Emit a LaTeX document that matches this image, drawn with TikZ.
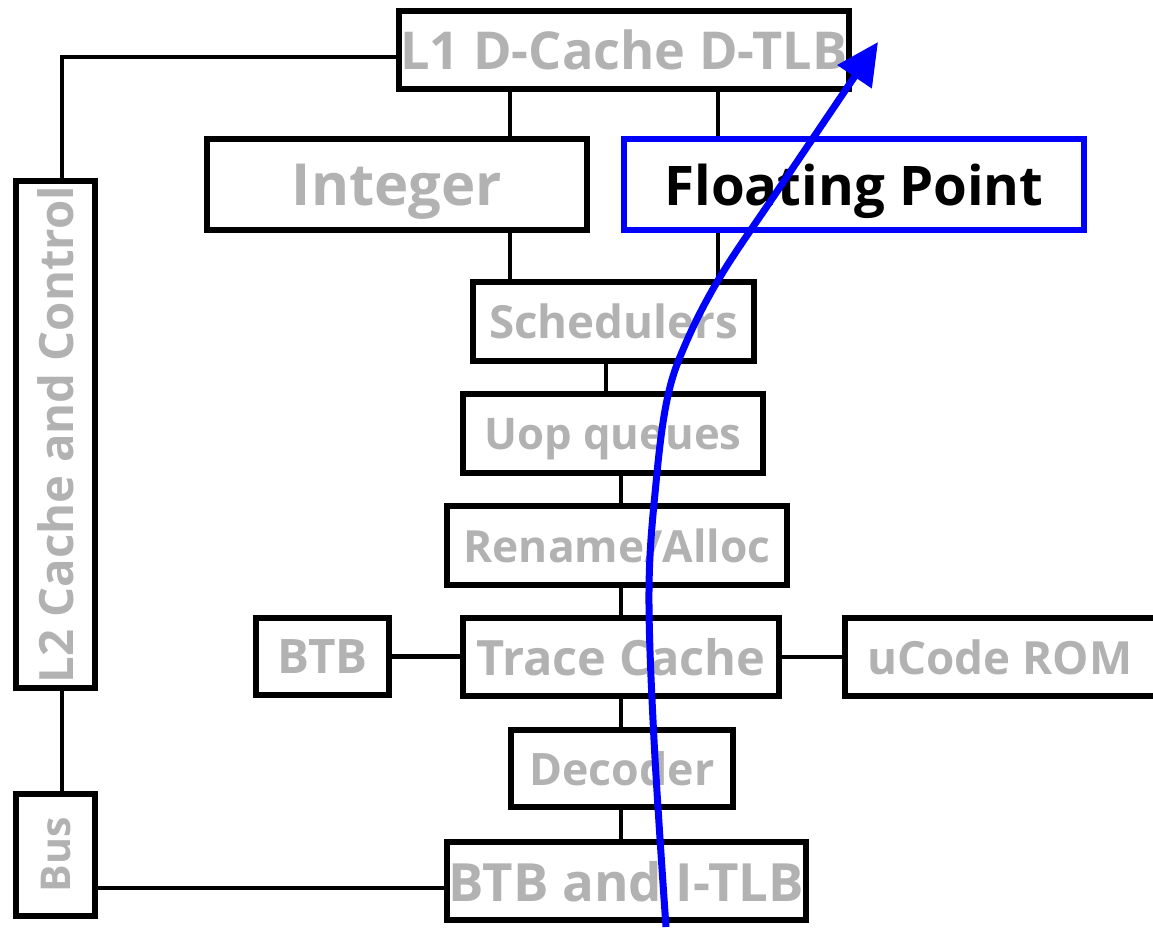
\documentclass[tikz,border=0pt]{standalone}
\usepackage{fontspec}
\setmainfont{Open Sans}
\usepackage{graphicx}
\usetikzlibrary{arrows.meta}
\definecolor{txtgray}{RGB}{178,178,178}
\definecolor{fpblue}{RGB}{0,0,255}
\newcommand{\fitw}[2]{\resizebox{#1pt}{!}{\raisebox{0pt}[\height][0pt]{\bfseries #2}}}
\begin{document}
\begin{tikzpicture}[x=1pt,y=-1pt,
  blk/.style={draw=black,line width=5.2pt,inner sep=0pt,text=txtgray,fill=white},
  conn/.style={line width=4.4pt,draw=black},
  flow/.style={draw=fpblue,line width=7pt,-{Triangle[length=42pt,width=40pt]}}]
\useasboundingbox (0,0) rectangle (1153,927);
% boxes
\node[blk,minimum width=450pt,minimum height=78pt] (L1) at (624,50) {\fitw{447}{L1 D-Cache D-TLB}};
\node[blk,minimum width=380pt,minimum height=91pt] (Int) at (397,184.5) {\fitw{210}{Integer}};
\node[blk,draw=fpblue,text=black,minimum width=460pt,minimum height=91pt] (FP) at (854,184.5) {\fitw{379}{Floating Point}};
\node[blk,minimum width=281pt,minimum height=79pt] (Sch) at (613.5,321.5) {\fitw{249}{Schedulers}};
\node[blk,minimum width=300pt,minimum height=79pt] (Uop) at (613,433.5) {\fitw{257}{Uop queues}};
\node[blk,minimum width=340pt,minimum height=79pt] (Ren) at (617,545.5) {\fitw{307}{Rename/Alloc}};
\node[blk,minimum width=133pt,minimum height=77pt] (BTB) at (322.5,656.5) {\fitw{90}{BTB}};
\node[blk,minimum width=316pt,minimum height=78pt] (TC) at (621,657) {\fitw{289}{Trace Cache}};
\node[blk,minimum width=320pt,minimum height=78pt] (UC) at (1005,657) {\hspace*{-10pt}\fitw{265}{uCode ROM}};
\node[blk,minimum width=222pt,minimum height=77pt] (Dec) at (622,768.5) {\fitw{185}{Decoder}};
\node[blk,minimum width=359pt,minimum height=78pt] (BTBI) at (626.5,881) {\fitw{355}{BTB and I-TLB}};
\node[blk,minimum width=79pt,minimum height=507pt] (L2) at (55.5,434.5) {\rotatebox{90}{\fitw{497}{L2 Cache and Control}}};
\node[blk,minimum width=79pt,minimum height=122pt] (Bus) at (55.5,855) {\rotatebox{90}{\fitw{75}{Bus}}};
% helper coordinates
\coordinate (c510) at (510,0);
\coordinate (c718) at (718,0);
\coordinate (c606) at (606,0);
\coordinate (c621) at (621,0);
\coordinate (k1) at (62,57);
\coordinate (k2) at (0,888);
\coordinate (ast) at (666,927);
\coordinate (aend) at (878,42);
% connectors
\draw[conn] (L1.south -| c510) -- (Int.north -| c510);
\draw[conn] (L1.south -| c718) -- (FP.north -| c718);
\draw[conn] (Int.south -| c510) -- (Sch.north -| c510);
\draw[conn] (FP.south -| c718) -- (Sch.north -| c718);
\draw[conn] (Sch.south -| c606) -- (Uop.north -| c606);
\draw[conn] (Uop.south -| c621) -- (Ren.north -| c621);
\draw[conn] (Ren.south -| c621) -- (TC.north -| c621);
\draw[conn] (TC.south -| c621) -- (Dec.north -| c621);
\draw[conn] (Dec.south -| c621) -- (BTBI.north -| c621);
\draw[conn] (BTB.east) -- (TC.west |- BTB.east);
\draw[conn] (TC.east) -- (UC.west |- TC.east);
\draw[conn] (L1.west |- k1) -| (L2.north -| k1);
\draw[conn] (L2.south -| k1) -- (Bus.north -| k1);
\draw[conn] (Bus.east |- k2) -- (BTBI.west |- k2);
% flow arrow
\draw[flow] plot[smooth,tension=0.6] coordinates {(ast) (654,740) (649,590) (656,483) (667,400) (685,345) (720,277) (778,190) (aend)};
\end{tikzpicture}
\end{document}
